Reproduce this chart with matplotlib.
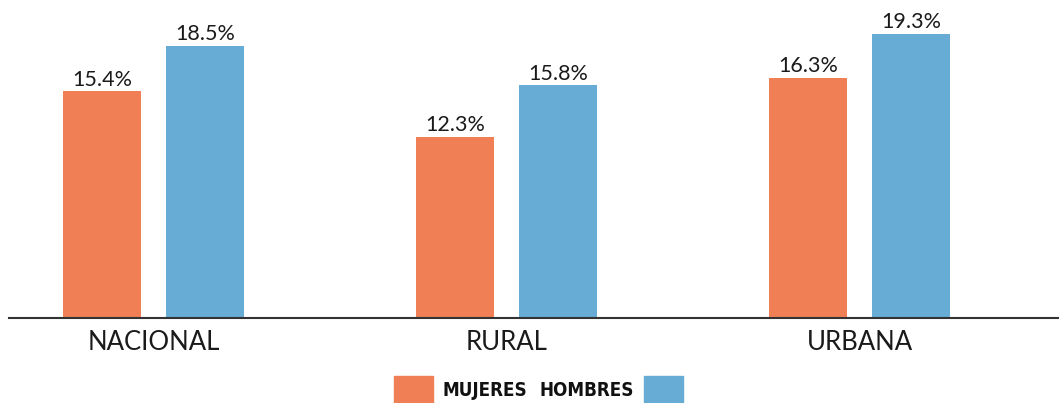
import matplotlib.pyplot as plt
from matplotlib.patches import Rectangle
import numpy as np

categorias = ['NACIONAL', 'RURAL', 'URBANA']
mujeres = [15.4, 12.3, 16.3]
hombres = [18.5, 15.8, 19.3]
series = ['MUJERES', 'HOMBRES']
c_muj = '#F07F55'
c_hom = '#67ACD5'

plt.rcParams['font.family'] = ['Lato', 'DejaVu Sans']

fig = plt.figure(figsize=(10.59, 4.03), dpi=100)
ax = fig.add_axes([9 / 1059, 85 / 403, 1050 / 1059, 318 / 403])

x = np.arange(len(categorias))
w = 0.221
off = 0.146
b1 = ax.bar(x - off, mujeres, w, color=c_muj)
b2 = ax.bar(x + off, hombres, w, color=c_hom)

for bars, vals in [(b1, mujeres), (b2, hombres)]:
    for b, v in zip(bars, vals):
        ax.text(b.get_x() + b.get_width() / 2, v + 0.12, f'{v}%',
                ha='center', va='bottom', fontsize=15.5, color='#1a1a1a')

ax.set_xlim(-0.409, 2.565)
ax.set_ylim(0, 21.6)
ax.set_xticks(x)
ax.set_xticklabels(categorias, fontsize=18.5, color='#1a1a1a')
ax.tick_params(axis='x', length=0, pad=9)
ax.set_yticks([])
for s in ['top', 'right', 'left']:
    ax.spines[s].set_visible(False)
ax.spines['bottom'].set_color('#333333')
ax.spines['bottom'].set_linewidth(1.5)

# legend: patch - MUJERES   HOMBRES - patch
fig.add_artist(Rectangle((394 / 1059, 0), 39 / 1059, 27 / 403,
                         transform=fig.transFigure, color=c_muj))
fig.add_artist(Rectangle((644 / 1059, 0), 39 / 1059, 27 / 403,
                         transform=fig.transFigure, color=c_hom))
fig.text(443 / 1059, 13 / 403, series[0], ha='left', va='center',
         fontsize=13.5, fontweight='bold', fontstretch='condensed',
         family=['DejaVu Sans'], color='#111111')
fig.text(634 / 1059, 13 / 403, series[1], ha='right', va='center',
         fontsize=13.5, fontweight='bold', fontstretch='condensed',
         family=['DejaVu Sans'], color='#111111')

fig.savefig('out.png', dpi=100)
